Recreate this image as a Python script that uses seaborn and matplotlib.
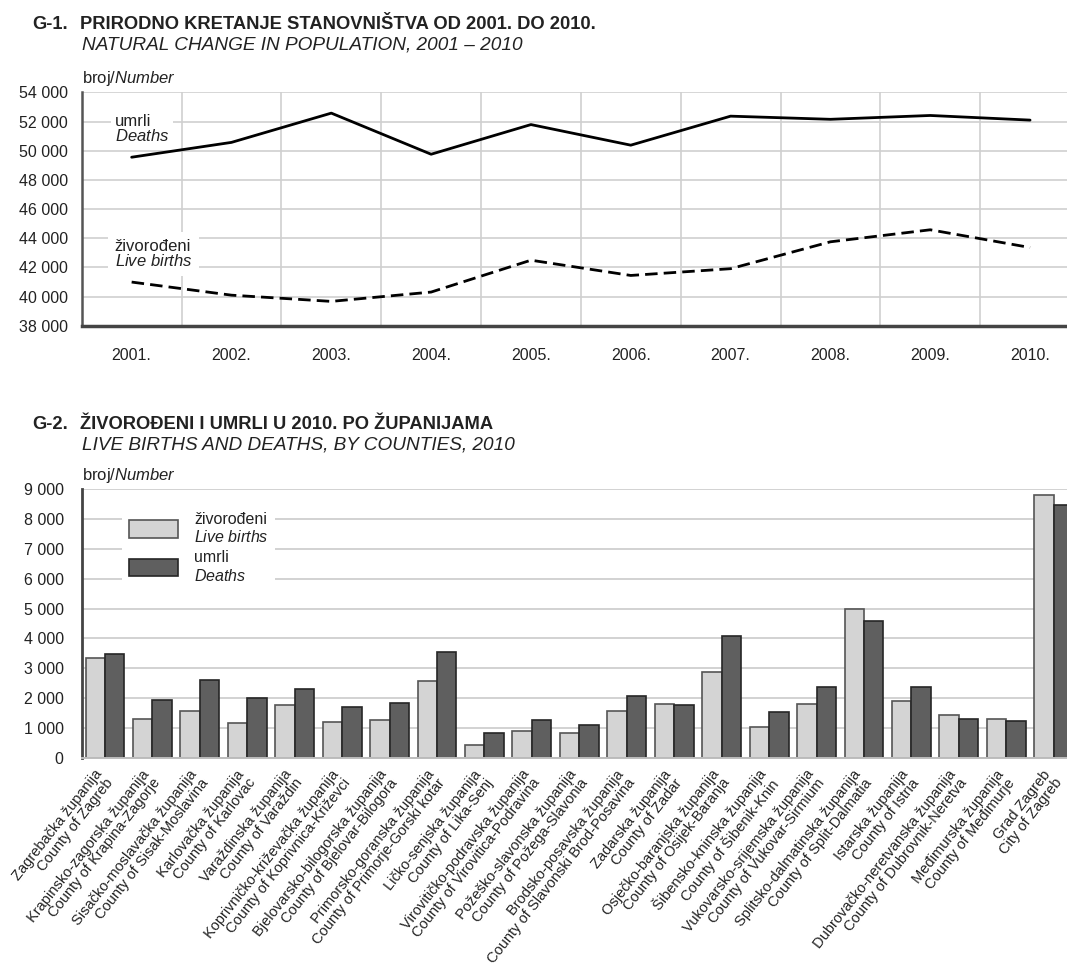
import matplotlib
matplotlib.use('Agg')
import matplotlib.pyplot as plt
import matplotlib.patches as mpatches
from matplotlib.ticker import FuncFormatter
import seaborn as sns
import pandas as pd
import numpy as np

# G-1 data
years = [2001, 2002, 2003, 2004, 2005, 2006, 2007, 2008, 2009, 2010]
deaths = [49552, 50569, 52575, 49756, 51790, 50378, 52367, 52151, 52414, 52096]
births = [40993, 40094, 39668, 40307, 42492, 41446, 41910, 43753, 44577, 43361]

# G-2 data
counties_hr = ['Zagrebačka županija', 'Krapinsko-zagorska županija', 'Sisačko-moslavačka županija',
               'Karlovačka županija', 'Varaždinska županija', 'Koprivničko-križevačka županija',
               'Bjelovarsko-bilogorska županija', 'Primorsko-goranska županija', 'Ličko-senjska županija',
               'Virovitičko-podravska županija', 'Požeško-slavonska županija', 'Brodsko-posavska županija',
               'Zadarska županija', 'Osječko-baranjska županija', 'Šibensko-kninska županija',
               'Vukovarsko-srijemska županija', 'Splitsko-dalmatinska županija', 'Istarska županija',
               'Dubrovačko-neretvanska županija', 'Međimurska županija', 'Grad Zagreb']
counties_en = ['County of Zagreb', 'County of Krapina-Zagorje', 'County of Sisak-Moslavina',
               'County of Karlovac', 'County of Varaždin', 'County of Koprivnica-Križevci',
               'County of Bjelovar-Bilogora', 'County of Primorje-Gorski kotar', 'County of Lika-Senj',
               'County of Virovitica-Podravina', 'County of Požega-Slavonia', 'County of Slavonski Brod-Posavina',
               'County of Zadar', 'County of Osijek-Baranja', 'County of Šibenik-Knin',
               'County of Vukovar-Sirmium', 'County of Split-Dalmatia', 'County of Istria',
               'County of Dubrovnik-Neretva', 'County of Međimurje', 'City of Zagreb']
births_2010 = [3330, 1290, 1580, 1160, 1760, 1200, 1270, 2560, 420, 890,
               820, 1580, 1800, 2880, 1020, 1820, 4970, 1910, 1440, 1300, 8790]
deaths_2010 = [3480, 1930, 2620, 2010, 2310, 1690, 1830, 3560, 840, 1270,
               1110, 2070, 1770, 4070, 1540, 2360, 4600, 2360, 1300, 1240, 8470]

sns.set_style('white')
plt.rcParams['font.family'] = ['Liberation Sans', 'DejaVu Sans']
plt.rcParams['mathtext.fontset'] = 'custom'
plt.rcParams['mathtext.rm'] = 'Liberation Sans'
plt.rcParams['mathtext.it'] = 'Liberation Sans:italic'
plt.rcParams['text.color'] = '#222222'

fig = plt.figure(figsize=(10.67, 9.72), dpi=100)
ax1 = fig.add_axes([0.0766, 0.6649, 0.9234, 0.2401])
ax2 = fig.add_axes([0.0766, 0.2202, 0.9234, 0.2767])

space_fmt = FuncFormatter(lambda v, p: f'{v:,.0f}'.replace(',', ' '))

# ---- G-1: line chart
df1 = pd.DataFrame({'year': years * 2,
                    'value': deaths + births,
                    'series': ['umrli'] * len(years) + ['živorođeni'] * len(years)})
sns.lineplot(data=df1, x='year', y='value', style='series',
             dashes={'umrli': '', 'živorođeni': (4.5, 2.2)},
             color='black', linewidth=2, ax=ax1, legend=False)

ax1.set_xlim(2000.5, 2010.37)
ax1.set_ylim(38000, 54000)
ax1.set_yticks(range(38000, 54001, 2000))
ax1.yaxis.set_major_formatter(space_fmt)
ax1.set_xticks(years)
ax1.set_xticklabels([f'{y}.' for y in years])
ax1.set_xticks(np.array(years[:-1]) + 0.5, minor=True)
ax1.grid(axis='y', color='#cfcfcf', lw=1.2)
ax1.grid(axis='x', which='minor', color='#cfcfcf', lw=1.2)
ax1.grid(axis='x', which='major', visible=False)
ax1.set_axisbelow(True)
ax1.set_xlabel('')
ax1.set_ylabel('')
ax1.tick_params(axis='both', which='both', length=0, labelsize=11.5, colors='#222222')
ax1.tick_params(axis='x', pad=16)
ax1.tick_params(axis='y', pad=10)
for s in ['top', 'right']:
    ax1.spines[s].set_visible(False)
ax1.spines['left'].set_color('#555555')
ax1.spines['left'].set_linewidth(1.8)
ax1.spines['bottom'].set_color('#444444')
ax1.spines['bottom'].set_linewidth(2.5)

ax1.text(2000.83, 51500, 'umrli\n$\\it{Deaths}$', fontsize=12, va='center', ha='left',
         linespacing=0.95, bbox=dict(fc='white', ec='none', pad=3), zorder=3)
ax1.text(2000.83, 42900, 'živorođeni\n$\\it{Live\\ births}$', fontsize=12, va='center', ha='left',
         linespacing=0.95, bbox=dict(fc='white', ec='none', pad=5), zorder=3)
ax1.text(0.0, 1.02, 'broj/$\\it{Number}$', transform=ax1.transAxes, fontsize=12,
         ha='left', va='bottom')

# ---- G-2: bar chart
labels = [f'{hr}\n{en}' for hr, en in zip(counties_hr, counties_en)]
df2 = pd.DataFrame({'county': labels * 2,
                    'value': births_2010 + deaths_2010,
                    'series': ['živorođeni'] * len(labels) + ['umrli'] * len(labels)})
pal = {'živorođeni': '#d4d4d4', 'umrli': '#5f5f5f'}
sns.barplot(data=df2, x='county', y='value', hue='series', palette=pal,
            width=0.82, saturation=1, linewidth=1.2, ax=ax2, legend=False)
for cont, ec in zip(ax2.containers, ['#555555', '#262626']):
    for p in cont:
        p.set_edgecolor(ec)

ax2.set_xlim(-0.49, 20.28)
ax2.set_ylim(0, 9000)
ax2.set_yticks(range(0, 9001, 1000))
ax2.yaxis.set_major_formatter(space_fmt)
ax2.grid(axis='y', color='#d2d2d2', lw=1.4)
ax2.grid(axis='x', visible=False)
ax2.set_axisbelow(True)
ax2.set_xlabel('')
ax2.set_ylabel('')
ax2.tick_params(axis='both', length=0, colors='#222222')
ax2.tick_params(axis='y', labelsize=11.5, pad=13)
ax2.tick_params(axis='x', labelsize=10.5, pad=13)
plt.setp(ax2.get_xticklabels(), rotation=52, ha='right', va='center',
         rotation_mode='anchor', linespacing=1.0)
for s in ['top', 'right']:
    ax2.spines[s].set_visible(False)
ax2.spines['left'].set_color('#444444')
ax2.spines['left'].set_linewidth(2)
ax2.spines['bottom'].set_color('#bdbdbd')
ax2.spines['bottom'].set_linewidth(1.4)

handles = [mpatches.Patch(facecolor=pal['živorođeni'], edgecolor='#555555', lw=1.2),
           mpatches.Patch(facecolor=pal['umrli'], edgecolor='#262626', lw=1.2)]
ax2.legend(handles=handles,
           labels=['živorođeni\n$\\it{Live\\ births}$', 'umrli\n$\\it{Deaths}$'],
           loc='upper left', bbox_to_anchor=(0.041, 0.94), frameon=True,
           facecolor='white', edgecolor='none', framealpha=1, fancybox=False,
           handlelength=3.1, handleheight=1.3, handletextpad=1.0,
           labelspacing=0.3, borderpad=0.4, fontsize=11.5, borderaxespad=0)
ax2.text(0.0, 1.015, 'broj/$\\it{Number}$', transform=ax2.transAxes, fontsize=12,
         ha='left', va='bottom')

# ---- titles
fig.text(0.030, 0.9743, 'G-1.', fontsize=13.2, fontweight='bold', va='center')
fig.text(0.075, 0.9743, 'PRIRODNO KRETANJE STANOVNIŠTVA OD 2001. DO 2010.',
         fontsize=13.2, fontweight='bold', va='center')
fig.text(0.0768, 0.9537, 'NATURAL CHANGE IN POPULATION, 2001 – 2010',
         fontsize=13.7, fontstyle='italic', va='center')
fig.text(0.030, 0.5628, 'G-2.', fontsize=13.2, fontweight='bold', va='center')
fig.text(0.075, 0.5628, 'ŽIVOROĐENI I UMRLI U 2010. PO ŽUPANIJAMA',
         fontsize=13.2, fontweight='bold', va='center')
fig.text(0.0768, 0.5422, 'LIVE BIRTHS AND DEATHS, BY COUNTIES, 2010',
         fontsize=13.7, fontstyle='italic', va='center')

fig.savefig('out.png', dpi=100, facecolor='white')
